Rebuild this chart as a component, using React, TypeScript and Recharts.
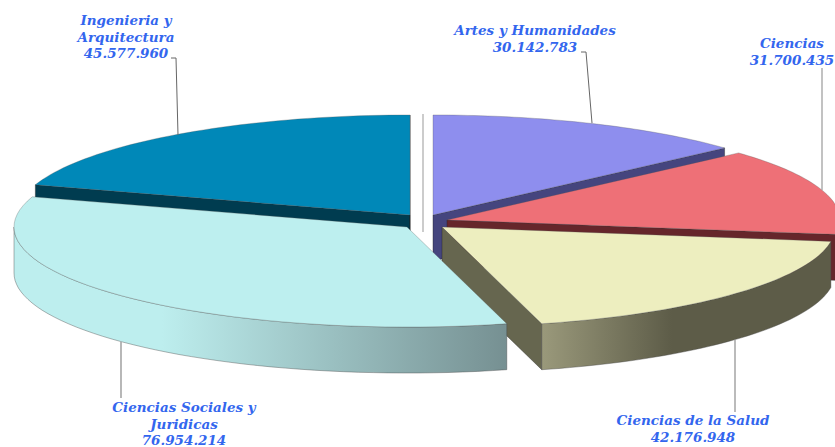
import { Pie, PieChart } from "recharts";

const categories = [
  "Ingenieria y Arquitectura",
  "Artes y Humanidades",
  "Ciencias",
  "Ciencias de la Salud",
  "Ciencias Sociales y Juridicas",
];
const values = [45577960, 30142783, 31700435, 42176948, 76954214];

// layout of the picture, per category in the same order
const labelLines = [
  ["Ingenieria y", "Arquitectura"],
  ["Artes y Humanidades"],
  ["Ciencias"],
  ["Ciencias de la Salud"],
  ["Ciencias Sociales y", "Juridicas"],
];
const labelCenters = [
  [126, 25],
  [535, 35],
  [792, 48],
  [693, 425],
  [184, 412],
];
const leaders = [
  "171,58 176,58 178,135",
  "581,52 586,52 592,123",
  "822,68 822,190",
  "735,340 735,412",
  "121,342 121,398",
];
const leaderColors = ["#666", "#666", "#999", "#a5a5a5", "#888"];
const leaderWidths = [1, 1, 1.2, 1.5, 1.2];
const explode = [
  [0, 0],
  [23, 0],
  [37, 5],
  [32, 12],
  [-3, 12],
];
const topColors = ["#0088b8", "#8e8eee", "#ee7077", "#edeebf", "#bdefef"];
const faceColors = ["#003c50", "#45457e", "#66262b", "#66664f", "#769092"];
const wallFrom = ["#003c50", "#45457e", "#66262b", "#9a997b", "#bdeeee"];
const wallTo = ["#003c50", "#45457e", "#66262b", "#5d5c48", "#769092"];

const SQUASH = 0.2545;
const DEPTH = 46;
const RAD = Math.PI / 180;

const total = values.reduce((s, v) => s + v, 0);
const firstSweep = (values[0] / total) * 360;
const data = categories.map((name, i) => ({ name, value: values[i], index: i }));

const formatValue = (v: number) => String(v).replace(/\B(?=(\d{3})+$)/g, ".");

function Slice3D(props: any) {
  const { cx, cy, outerRadius: r, startAngle, endAngle, index } = props;
  const [dx, dy] = explode[index];
  const ax = cx + dx;
  const ay = cy + dy;
  const pt = (deg: number, d = 0): [number, number] => [
    ax + r * Math.cos(deg * RAD),
    ay - r * SQUASH * Math.sin(deg * RAD) + d,
  ];
  const arc = (from: number, to: number, d = 0) => {
    const n = 48;
    const out: string[] = [];
    for (let i = 0; i <= n; i++) {
      const p = pt(from + ((to - from) * i) / n, d);
      out.push(`${p[0].toFixed(1)},${p[1].toFixed(1)}`);
    }
    return out;
  };

  const mid = (startAngle + endAngle) / 2;
  const m = pt(mid);
  const faces = [startAngle, endAngle].filter((deg) => {
    const e = pt(deg);
    let nx = -(e[1] - ay);
    let ny = e[0] - ax;
    if (ny < 0) {
      nx = -nx;
      ny = -ny;
    }
    return nx * (m[0] - ax) + ny * (m[1] - ay) < 0;
  });

  // front of the ellipse runs between -180 and 0 degrees (mod 360)
  const walls: [number, number][] = [];
  for (const k of [0, -360, 360]) {
    const from = Math.min(startAngle, 0 + k);
    const to = Math.max(endAngle, -180 + k);
    if (from > to) walls.push([from, to]);
  }

  return (
    <g>
      {faces.map((deg) => {
        const e = pt(deg);
        return (
          <polygon
            key={deg}
            points={`${ax},${ay} ${e[0]},${e[1]} ${e[0]},${e[1] + DEPTH} ${ax},${ay + DEPTH}`}
            fill={faceColors[index]}
            stroke="#222"
            strokeWidth={0.4}
          />
        );
      })}
      {walls.map(([from, to]) => (
        <polygon
          key={from}
          points={[...arc(from, to), ...arc(to, from, DEPTH)].join(" ")}
          fill={`url(#wall${index})`}
          stroke="#444"
          strokeWidth={0.4}
        />
      ))}
      <polygon
        points={[`${ax},${ay}`, ...arc(startAngle, endAngle)].join(" ")}
        fill={topColors[index]}
        stroke="#555"
        strokeWidth={0.3}
      />
    </g>
  );
}

function SliceLabel(props: any) {
  const i = props.index;
  const [x, y] = labelCenters[i];
  const lines = [...labelLines[i], formatValue(values[i])];
  return (
    <g>
      <polyline points={leaders[i]} fill="none" stroke={leaderColors[i]} strokeWidth={leaderWidths[i]} />
      <text
        x={x}
        y={y}
        textAnchor="middle"
        fill="#3366ee"
        fontFamily="'DejaVu Serif', serif"
        fontWeight="bold"
        fontStyle="italic"
        fontSize={13.5}
      >
        {lines.map((line, j) => (
          <tspan key={j} x={x} y={y + j * 16.5}>
            {line}
          </tspan>
        ))}
      </text>
    </g>
  );
}

export default function App() {
  return (
    <div style={{ position: "absolute", left: 0, top: 0, width: 835, height: 447, background: "#fff" }}>
      <PieChart width={835} height={447} margin={{ top: 0, right: 0, bottom: 0, left: 0 }}>
        <defs>
          {wallFrom.map((c, i) => (
            <linearGradient key={i} id={`wall${i}`} x1="0" y1="0" x2="1" y2="0">
              <stop offset="0%" stopColor={c} />
              <stop offset={i === 3 ? "45%" : "30%"} stopColor={i === 3 ? wallTo[i] : c} />
              <stop offset="100%" stopColor={wallTo[i]} />
            </linearGradient>
          ))}
        </defs>
        <line x1={423} y1={114} x2={423} y2={232} stroke="#999" strokeWidth={1} />
        <Pie
          data={data}
          dataKey="value"
          nameKey="name"
          cx={410}
          cy={215}
          innerRadius={0}
          outerRadius={393}
          startAngle={90 + firstSweep}
          endAngle={90 + firstSweep - 360}
          stroke="none"
          isAnimationActive={false}
          shape={Slice3D}
          label={SliceLabel}
          labelLine={false}
        />
      </PieChart>
    </div>
  );
}
